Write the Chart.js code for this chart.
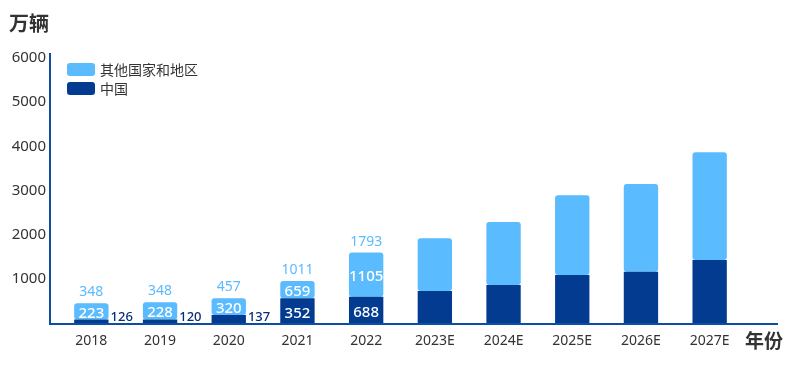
<!DOCTYPE html>
<html>
<head>
<meta charset="utf-8">
<script src="https://cdn.jsdelivr.net/npm/chart.js@4"></script>
<style>
  html, body { margin: 0; padding: 0; background: #ffffff; }
  #wrap { width: 800px; height: 370px; position: relative; }
</style>
</head>
<body>
<div id="wrap"><canvas id="c" width="800" height="370"></canvas></div>
<script>
// ---- data ----
const categories = ['2018', '2019', '2020', '2021', '2022', '2023E', '2024E', '2025E', '2026E', '2027E'];
// bar heights as drawn in the picture (万辆)
const chinaValues = [80, 80, 180, 560, 595, 725, 860, 1085, 1160, 1425];
const otherValues = [370, 390, 380, 390, 1000, 1195, 1425, 1810, 1985, 2440];
// value labels printed on the bars
const totalLabels = ['348', '348', '457', '1011', '1793', '', '', '', '', ''];
const otherLabels = ['223', '228', '320', '659', '1105', '', '', '', '', ''];
const chinaLabels = ['126', '120', '137', '352', '688', '', '', '', '', ''];
const seriesNames = ['中国', '其他国家和地区'];
const yTicks = [1000, 2000, 3000, 4000, 5000, 6000];
const yUnit = '万辆';
const xUnit = '年份';

const LIGHT = '#5ABBFF';
const DARK = '#033B91';
const AXIS = '#0B4EA2';
const TEXT = '#333333';
const FONT = '"Noto Sans", "Noto Sans CJK SC", sans-serif';
const CJK = '"Noto Sans CJK SC", "Noto Sans", sans-serif';

const overlay = {
  id: 'overlay',
  afterDatasetsDraw(chart) {
    const ctx = chart.ctx;
    const area = chart.chartArea;
    const yScale = chart.scales.y;
    const base = yScale.getPixelForValue(0);
    ctx.save();
    // axis lines
    ctx.strokeStyle = AXIS;
    ctx.lineWidth = 2;
    ctx.beginPath();
    ctx.moveTo(50, 53);
    ctx.lineTo(50, base + 1);
    ctx.lineTo(778, base + 1);
    ctx.stroke();

    // value labels
    const mChina = chart.getDatasetMeta(0);
    const mOther = chart.getDatasetMeta(1);
    ctx.textAlign = 'center';
    ctx.textBaseline = 'middle';
    categories.forEach((c, i) => {
      const bc = mChina.data[i];
      const bo = mOther.data[i];
      if (totalLabels[i]) {
        ctx.font = '14px ' + FONT;
        ctx.fillStyle = LIGHT;
        ctx.textAlign = 'center';
        ctx.fillText(totalLabels[i], bo.x, bo.y - 11);
      }
      if (otherLabels[i]) {
        ctx.font = '500 15px ' + FONT;
        ctx.fillStyle = '#ffffff';
        ctx.textAlign = 'center';
        ctx.fillText(otherLabels[i], bo.x, (bo.y + bo.base) / 2 + 2);
      }
      if (chinaLabels[i]) {
        const h = bc.base - bc.y;
        if (h >= 16) {
          ctx.font = '500 15px ' + FONT;
          ctx.fillStyle = '#ffffff';
          ctx.textAlign = 'center';
          ctx.fillText(chinaLabels[i], bc.x, (bc.y + bc.base) / 2 + 3);
        } else {
          ctx.font = '500 13px ' + FONT;
          ctx.fillStyle = '#0A2C78';
          ctx.textAlign = 'left';
          ctx.fillText(chinaLabels[i], bc.x + bc.width / 2 + 2, bc.base - 6);
        }
      }
    });

    // legend (light series first)
    const legendItems = [
      { name: chart.data.datasets[1].label, color: chart.data.datasets[1].backgroundColor },
      { name: chart.data.datasets[0].label, color: chart.data.datasets[0].backgroundColor }
    ];
    legendItems.forEach((it, k) => {
      const y = 63 + k * 19;
      ctx.fillStyle = it.color;
      ctx.beginPath();
      ctx.roundRect(67, y, 28, 13, 3);
      ctx.fill();
      ctx.fillStyle = TEXT;
      ctx.font = '14px ' + CJK;
      ctx.textAlign = 'left';
      ctx.textBaseline = 'middle';
      ctx.fillText(it.name, 100, y + 7);
    });

    // unit titles
    ctx.fillStyle = TEXT;
    ctx.font = 'bold 20px ' + CJK;
    ctx.textAlign = 'left';
    ctx.textBaseline = 'middle';
    ctx.fillText(yUnit, 9, 23);
    ctx.font = 'bold 19px ' + CJK;
    ctx.fillText(xUnit, 745, 341);
    ctx.restore();
  }
};

new Chart(document.getElementById('c'), {
  type: 'bar',
  data: {
    labels: categories,
    datasets: [
      {
        label: seriesNames[0],
        data: chinaValues,
        backgroundColor: DARK,
        borderRadius: 3,
        borderSkipped: false,
        barPercentage: 0.5,
        categoryPercentage: 1.0
      },
      {
        label: seriesNames[1],
        data: otherValues,
        backgroundColor: LIGHT,
        borderRadius: 3,
        borderSkipped: false,
        barPercentage: 0.5,
        categoryPercentage: 1.0
      }
    ]
  },
  options: {
    responsive: false,
    animation: false,
    layout: { padding: { top: 58, right: 56, left: 0, bottom: 0 } },
    plugins: {
      legend: { display: false },
      tooltip: { enabled: false },
      title: { display: false }
    },
    scales: {
      x: {
        stacked: true,
        grid: { display: false, drawTicks: false },
        border: { display: false },
        ticks: { color: TEXT, font: { family: FONT, size: 14 }, padding: 10, maxRotation: 0, autoSkip: false },
        afterFit(scale) { scale.height = 47; }
      },
      y: {
        stacked: true,
        min: 0,
        max: 6000,
        grid: { display: false, drawTicks: false },
        border: { display: false },
        afterBuildTicks(scale) { scale.ticks = yTicks.map(v => ({ value: v })); },
        ticks: {
          color: TEXT,
          font: { family: FONT, size: 15 },
          padding: 11,
          callback: (v) => String(v)
        },
        afterFit(scale) { scale.width = 57; }
      }
    }
  },
  plugins: [overlay]
});
</script>
</body>
</html>
